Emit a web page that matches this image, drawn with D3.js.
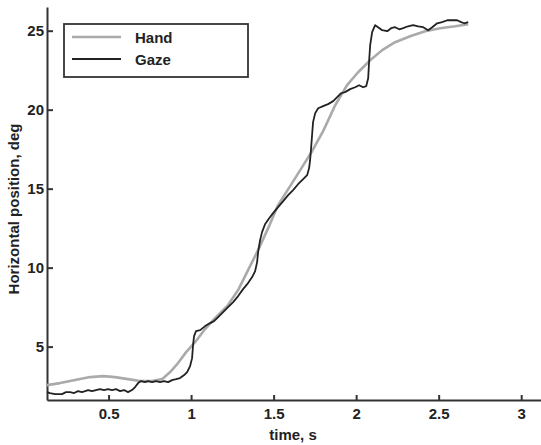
<!DOCTYPE html>
<html>
<head>
<meta charset="utf-8">
<script src="https://cdn.jsdelivr.net/npm/d3@7"></script>
<style>
  body { margin: 0; background: #fff; }
  svg { display: block; font-family: "Liberation Sans", Arial, sans-serif; }
  .axis path, .axis line { stroke: #333; stroke-width: 2; }
  .axis text { font-size: 15px; font-weight: bold; fill: #222; }
  .label { font-size: 15px; font-weight: bold; fill: #222; }
</style>
</head>
<body>
<div id="chart"></div>
<script>
// hand position
const handTime = [0.127, 0.206, 0.297, 0.388, 0.467, 0.539, 0.618, 0.691, 0.764, 0.824,
  0.873, 0.921, 0.970, 1.024, 1.085, 1.145, 1.224, 1.285, 1.345, 1.406,
  1.467, 1.527, 1.600, 1.661, 1.733, 1.800, 1.873, 1.945, 2.012, 2.085,
  2.158, 2.236, 2.327, 2.418, 2.509, 2.600, 2.679];
const handPos = [2.56, 2.69, 2.88, 3.07, 3.13, 3.07, 2.94, 2.82, 2.82, 2.94,
  3.39, 3.96, 4.65, 5.28, 6.11, 6.80, 7.63, 8.58, 9.84, 11.11,
  12.50, 13.96, 15.16, 16.17, 17.37, 18.64, 20.28, 21.55, 22.37, 23.13,
  23.77, 24.27, 24.65, 24.97, 25.16, 25.28, 25.41];

// gaze position
const gazeTime = [0.127, 0.145, 0.176, 0.218, 0.242, 0.267, 0.291, 0.315, 0.339, 0.358,
  0.376, 0.400, 0.424, 0.448, 0.473, 0.497, 0.521, 0.545, 0.570, 0.594,
  0.618, 0.642, 0.661, 0.679, 0.697, 0.721, 0.739, 0.764, 0.788, 0.812,
  0.836, 0.861, 0.885, 0.909, 0.933, 0.958, 0.976, 0.994, 1.006, 1.012,
  1.018, 1.030, 1.055, 1.085, 1.115, 1.139, 1.164, 1.194, 1.224, 1.255,
  1.285, 1.315, 1.345, 1.370, 1.388, 1.400, 1.406, 1.418, 1.430, 1.448,
  1.473, 1.497, 1.527, 1.558, 1.588, 1.618, 1.648, 1.679, 1.703, 1.715,
  1.721, 1.727, 1.733, 1.739, 1.752, 1.770, 1.800, 1.830, 1.861, 1.885,
  1.909, 1.933, 1.964, 1.994, 2.018, 2.042, 2.061, 2.073, 2.079, 2.085,
  2.097, 2.115, 2.133, 2.158, 2.188, 2.212, 2.236, 2.261, 2.285, 2.315,
  2.345, 2.376, 2.406, 2.436, 2.461, 2.491, 2.521, 2.552, 2.582, 2.612,
  2.636, 2.655, 2.679];
const gazePos = [2.12, 2.06, 1.99, 1.99, 2.12, 2.12, 2.06, 2.18, 2.12, 2.18,
  2.25, 2.18, 2.25, 2.31, 2.25, 2.31, 2.25, 2.31, 2.18, 2.25,
  2.12, 2.25, 2.44, 2.69, 2.82, 2.75, 2.82, 2.75, 2.82, 2.75,
  2.82, 2.75, 2.88, 2.94, 3.01, 3.20, 3.39, 3.77, 4.27, 5.09,
  5.66, 5.98, 6.04, 6.30, 6.49, 6.61, 6.87, 7.18, 7.50, 7.82,
  8.20, 8.64, 9.02, 9.40, 9.78, 10.35, 10.98, 11.74, 12.25, 12.75,
  13.13, 13.45, 13.83, 14.21, 14.59, 14.91, 15.28, 15.60, 15.85, 16.30,
  16.80, 17.56, 18.38, 19.21, 19.78, 20.09, 20.22, 20.35, 20.54, 20.79,
  21.04, 21.11, 21.30, 21.42, 21.55, 21.42, 21.49, 21.99, 23.13, 24.08,
  24.91, 25.35, 25.22, 25.03, 24.97, 25.16, 25.22, 25.09, 25.16, 25.28,
  25.35, 25.28, 25.22, 25.03, 25.22, 25.47, 25.54, 25.66, 25.66, 25.66,
  25.54, 25.47, 25.54];

const xTicks = [0.5, 1, 1.5, 2, 2.5, 3];
const yTicks = [5, 10, 15, 20, 25];
const seriesNames = ["Hand", "Gaze"];
const seriesColors = ["#aaaaaa", "#222222"];

const width = 541;
const height = 445;

const svg = d3.select("#chart").append("svg")
  .attr("width", width)
  .attr("height", height);

const x = d3.scaleLinear()
  .domain([0.127, 3.12])
  .range([47, 541]);

const y = d3.scaleLinear()
  .domain([1.62, 26.5])
  .range([400, 7]);

// axes, ticks pointing inward like the original
svg.append("g")
  .attr("class", "axis")
  .attr("transform", "translate(0,400)")
  .call(d3.axisBottom(x).tickValues(xTicks).tickFormat(d3.format("~g"))
    .tickSizeInner(-5).tickSizeOuter(0).tickPadding(8));

svg.append("g")
  .attr("class", "axis")
  .attr("transform", "translate(47,0)")
  .call(d3.axisLeft(y).tickValues(yTicks)
    .tickSizeInner(-6).tickSizeOuter(0).tickPadding(3));

svg.selectAll(".axis .domain").attr("stroke-width", 2.2);

svg.append("text")
  .attr("class", "label")
  .attr("text-anchor", "middle")
  .attr("x", 293)
  .attr("y", 440)
  .text("time, s");

svg.append("text")
  .attr("class", "label")
  .attr("text-anchor", "middle")
  .attr("transform", "translate(19,209) rotate(-90)")
  .text("Horizontal position, deg");

const line = d3.line()
  .x(function(d) { return x(d[0]); })
  .y(function(d) { return y(d[1]); });

const hand = d3.zip(handTime, handPos);
const gaze = d3.zip(gazeTime, gazePos);

svg.append("path")
  .attr("d", line(hand))
  .attr("fill", "none")
  .attr("stroke", seriesColors[0])
  .attr("stroke-width", 2.6)
  .attr("stroke-linejoin", "round");

svg.append("path")
  .attr("d", line(gaze))
  .attr("fill", "none")
  .attr("stroke", seriesColors[1])
  .attr("stroke-width", 1.8)
  .attr("stroke-linejoin", "round");

// legend
const legend = svg.append("g").attr("transform", "translate(64,24)");
legend.append("rect")
  .attr("width", 184)
  .attr("height", 53)
  .attr("fill", "#fff")
  .attr("stroke", "#333")
  .attr("stroke-width", 1.8);

seriesNames.forEach(function(name, i) {
  legend.append("line")
    .attr("x1", 8).attr("x2", 57)
    .attr("y1", 13 + i * 22).attr("y2", 13 + i * 22)
    .attr("stroke", seriesColors[i])
    .attr("stroke-width", i === 0 ? 2.4 : 2);
  legend.append("text")
    .attr("class", "label")
    .attr("x", 71)
    .attr("y", 19 + i * 22)
    .text(name);
});
</script>
</body>
</html>
